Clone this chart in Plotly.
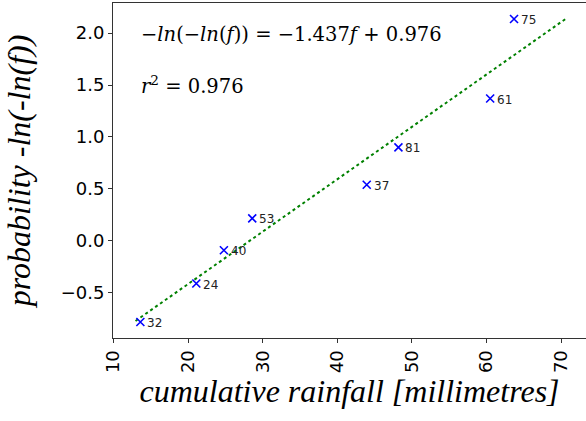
import plotly.graph_objects as go

# data
rainfall = [13.6, 21.1, 24.8, 28.6, 43.95, 48.2, 60.5, 63.7]
probability = [-0.78, -0.41, -0.09, 0.217, 0.54, 0.90, 1.37, 2.135]
point_labels = ["32", "24", "40", "53", "37", "81", "61", "75"]
fit_x = [12.95, 70.6]
fit_y = [-0.77, 2.135]
x_ticks = [10, 20, 30, 40, 50, 60, 70]
y_ticks = [-0.5, 0.0, 0.5, 1.0, 1.5, 2.0]
equation_text = "−<i>ln</i>(−<i>ln</i>(<i>f</i>)) = −1.437<i>f</i> + 0.976"
r2_text = "<i>r</i><sup>2</sup> = 0.976"

fig = go.Figure()
fig.add_trace(go.Scatter(
    x=fit_x, y=fit_y, mode="lines",
    line=dict(color="#008000", width=2, dash="dot"),
    hoverinfo="skip", showlegend=False))
fig.add_trace(go.Scatter(
    x=rainfall, y=probability, mode="markers",
    marker=dict(symbol="x-thin", size=8, color="blue",
                line=dict(color="blue", width=1.6)),
    showlegend=False))

for xv, yv, lab in zip(rainfall, probability, point_labels):
    fig.add_annotation(x=xv, y=yv, text=lab, showarrow=False,
                       xanchor="left", yanchor="middle", xshift=5, yshift=-1,
                       font=dict(family="DejaVu Sans", size=12, color="#222222"))

fig.add_annotation(xref="paper", yref="paper", x=0.055, y=0.905,
                   text=equation_text, showarrow=False, xanchor="left", yanchor="middle",
                   font=dict(family="DejaVu Serif", size=19.5, color="black"))
fig.add_annotation(xref="paper", yref="paper", x=0.055, y=0.755,
                   text=r2_text, showarrow=False, xanchor="left", yanchor="middle",
                   font=dict(family="DejaVu Serif", size=19.5, color="black"))

fig.update_layout(
    width=586, height=421,
    margin=dict(l=113, r=0, t=3, b=83, autoexpand=False),
    plot_bgcolor="white", paper_bgcolor="white",
    font=dict(family="DejaVu Sans", color="black"),
    xaxis=dict(range=[9.93, 73.35], tickvals=x_ticks, tickangle=-90,
               automargin=False,
               ticks="outside", ticklen=4, tickcolor="#333333",
               showline=True, linecolor="#333333", linewidth=1, mirror=True,
               showgrid=False, zeroline=False,
               tickfont=dict(family="DejaVu Sans", size=18, color="black"),
               title=dict(text="<i>cumulative rainfall [millimetres]</i>",
                          font=dict(family="Liberation Serif", size=32, color="black"),
                          standoff=4)),
    yaxis=dict(range=[-0.934, 2.289], tickvals=y_ticks, tickformat=".1f",
               automargin=False,
               ticks="outside", ticklen=4, tickcolor="#333333",
               showline=True, linecolor="#333333", linewidth=1, mirror=False,
               showgrid=False, zeroline=False,
               tickfont=dict(family="DejaVu Sans", size=18, color="black"),
               title=dict(text="<i>probability -ln(-ln(f))</i>",
                          font=dict(family="Liberation Serif", size=32, color="black"),
                          standoff=20)),
)

fig.write_html("out.html", config={"displayModeBar": False},
               post_script="document.body.style.margin='0';document.body.style.overflow='hidden';")
